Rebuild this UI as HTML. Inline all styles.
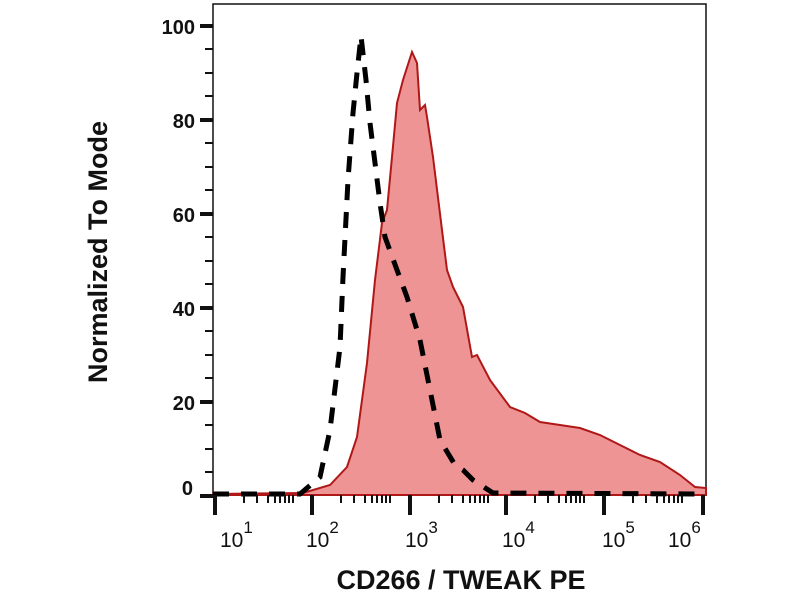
<!DOCTYPE html>
<html><head><style>body{margin:0;background:#fff}svg{display:block}text{font-family:"Liberation Sans",sans-serif;fill:#111}</style></head><body>
<svg width="800" height="600" viewBox="0 0 800 600">
<rect x="213" y="4" width="493" height="491" fill="none" stroke="#111" stroke-width="1.5"/>
<path d="M213,494 L303,493 L330,485 L347,467 L357,437 L367,363 L375,280 L382,223 L387,210 L392,157 L397,103 L403,80 L412,52 L417,63 L420,110 L425,105 L427,117 L433,157 L442,230 L447,270 L453,287 L463,307 L472,357 L477,355 L490,380 L510,407 L525,413 L540,422 L560,425 L580,428 L600,435 L620,445 L640,455 L660,462 L680,475 L695,487 L706,488 L706,495 L213,495 Z" fill="#ee9494" stroke="#b01818" stroke-width="2"/>
<path d="M213,494 L300,494 L320,477 L330,430 L340,347 L343,277 L348,180 L353,113 L357,73 L361,36 L366,80 L370,123 L380,203 L385,237 L397,270 L407,297 L420,340 L430,390 L440,440 L455,465 L463,470 L473,480 L493,493 L706,494" fill="none" stroke="#000" stroke-width="5" stroke-dasharray="16,12"/>
<g stroke="#111" stroke-width="4">
<line x1="200" y1="26" x2="213" y2="26"/><line x1="200" y1="120" x2="213" y2="120"/><line x1="200" y1="214" x2="213" y2="214"/><line x1="200" y1="308" x2="213" y2="308"/><line x1="200" y1="402" x2="213" y2="402"/><line x1="200" y1="496" x2="213" y2="496"/>
<line x1="215" y1="495" x2="215" y2="515"/><line x1="312" y1="495" x2="312" y2="515"/><line x1="410" y1="495" x2="410" y2="515"/><line x1="506" y1="495" x2="506" y2="515"/><line x1="604" y1="495" x2="604" y2="515"/><line x1="703" y1="495" x2="703" y2="515"/>
</g>
<g stroke="#111" stroke-width="2">
<line x1="205" y1="49" x2="213" y2="49"/><line x1="205" y1="73" x2="213" y2="73"/><line x1="205" y1="96" x2="213" y2="96"/>
<line x1="205" y1="143" x2="213" y2="143"/><line x1="205" y1="167" x2="213" y2="167"/><line x1="205" y1="190" x2="213" y2="190"/>
<line x1="205" y1="237" x2="213" y2="237"/><line x1="205" y1="261" x2="213" y2="261"/><line x1="205" y1="284" x2="213" y2="284"/>
<line x1="205" y1="331" x2="213" y2="331"/><line x1="205" y1="355" x2="213" y2="355"/><line x1="205" y1="378" x2="213" y2="378"/>
<line x1="205" y1="425" x2="213" y2="425"/><line x1="205" y1="449" x2="213" y2="449"/><line x1="205" y1="472" x2="213" y2="472"/>
</g>
<g stroke="#111" stroke-width="2">
<path d="M244,495v8M257,495v8M268,495v8M275,495v8M280,495v8M285,495v8M289,495v8M293,495v8M341,495v8M354,495v8M365,495v8M372,495v8M377,495v8M382,495v8M386,495v8M390,495v8M439,495v8M452,495v8M463,495v8M470,495v8M475,495v8M480,495v8M484,495v8M488,495v8M535,495v8M548,495v8M559,495v8M566,495v8M571,495v8M576,495v8M580,495v8M584,495v8M633,495v8M646,495v8M657,495v8M664,495v8M669,495v8M674,495v8M678,495v8M682,495v8"/>
</g>
<g font-size="20" text-anchor="end" font-weight="bold">
<text x="195" y="34">100</text><text x="195" y="128">80</text><text x="195" y="222">60</text><text x="195" y="316">40</text><text x="195" y="410">20</text><text x="193" y="495">0</text>
</g>
<g font-size="21">
<text x="220" y="547">10<tspan font-size="17" dy="-14">1</tspan></text>
<text x="306" y="547">10<tspan font-size="17" dy="-14">2</tspan></text>
<text x="405" y="547">10<tspan font-size="17" dy="-14">3</tspan></text>
<text x="502" y="547">10<tspan font-size="17" dy="-14">4</tspan></text>
<text x="602" y="547">10<tspan font-size="17" dy="-14">5</tspan></text>
<text x="668" y="547">10<tspan font-size="17" dy="-14">6</tspan></text>
</g>
<text x="461" y="589" font-size="27" font-weight="bold" text-anchor="middle">CD266 / TWEAK PE</text>
<text transform="translate(107,252) rotate(-90)" font-size="27" font-weight="bold" text-anchor="middle">Normalized To Mode</text>
</svg>
</body></html>
